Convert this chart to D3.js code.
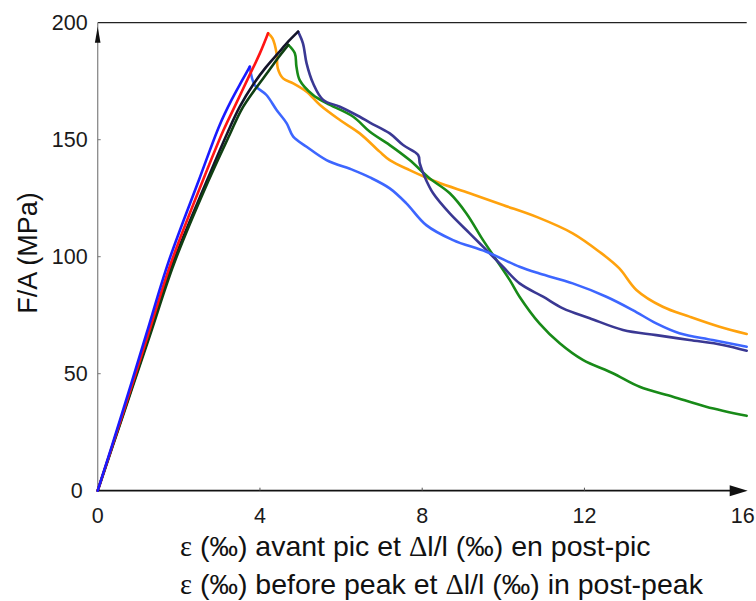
<!DOCTYPE html>
<html>
<head>
<meta charset="utf-8">
<script src="https://cdn.jsdelivr.net/npm/d3@7"></script>
<style>
  body { margin: 0; background: #fff; }
  .tick-label { font-family: "Liberation Sans", Arial, sans-serif; font-size: 21.5px; fill: #1a1a1a; }
  .axis-label { font-family: "Liberation Sans", Arial, sans-serif; fill: #111; }
  .curve { fill: none; stroke-width: 2.6; stroke-linejoin: round; stroke-linecap: round; }
</style>
</head>
<body>
<div id="chart"></div>
<script>
// tick values
const xTicks = [0, 4, 8, 12, 16];
const yTicks = [0, 50, 100, 150, 200];

// pre-peak curves (strain in per mille, stress in MPa)
const bluePreX = [0, 0.6, 1.2, 1.75, 2.5, 3.0, 3.3, 3.55, 3.75];
const bluePreY = [0, 33, 67, 98, 133, 156, 167, 175, 181.2];
const redPreX = [0, 0.62, 1.23, 1.8, 2.58, 3.1, 3.4, 3.7, 4.0, 4.2];
const redPreY = [0, 33, 66, 97, 132, 154, 165, 176, 187, 195.5];
const blackPreX = [0, 0.63, 1.26, 1.85, 2.68, 3.2, 3.5, 3.85, 4.15, 4.45, 4.7, 4.94];
const blackPreY = [0, 33, 66, 97, 132, 153, 164, 174, 181, 187, 192, 196.2];
const darkGreenPreX = [0, 0.64, 1.28, 1.88, 2.72, 3.25, 3.55, 3.9, 4.2, 4.45, 4.7];
const darkGreenPreY = [0, 33, 66, 97, 132, 152, 163, 172, 179, 185, 190.5];

// post-peak curves (dl/l in per mille, stress in MPa)
const orangePostX = [4.2, 4.31, 4.41, 4.44, 4.57, 4.82, 5.15, 5.48, 5.97, 6.46, 6.95, 7.2, 7.69, 8.35, 9.17, 9.99, 10.85, 11.71, 12.37, 12.86, 13.28, 13.93, 14.59, 15.33, 16];
const orangePostY = [195.5, 193.3, 186.9, 180.5, 176.2, 174.1, 170.5, 164.8, 158.4, 152.7, 144.9, 141.3, 137, 132, 127.1, 122.1, 116.8, 110, 102.1, 95, 85.8, 78.6, 74.4, 70.1, 67];
const lightBluePostX = [3.75, 3.87, 4.16, 4.41, 4.66, 4.82, 5.15, 5.64, 6.3, 6.71, 7.2, 7.61, 8.1, 8.76, 9.58, 10.4, 10.89, 11.71, 12.54, 13.19, 13.77, 14.34, 15.16, 16];
const lightBluePostY = [181.2, 173.4, 169.1, 162.7, 157, 151.3, 147, 141.3, 137, 133.9, 129.2, 122.8, 113.5, 107.1, 102.1, 95.7, 92.8, 88.6, 82.9, 77.2, 71.5, 67.3, 64.4, 61.5];
const navyPostX = [4.94, 5.06, 5.15, 5.31, 5.56, 5.97, 6.46, 6.71, 7.2, 7.53, 7.9, 7.94, 8.06, 8.27, 8.68, 9.17, 9.58, 9.99, 10.4, 10.98, 11.47, 12.13, 12.95, 13.77, 14.59, 15.41, 16];
const navyPostY = [196.2, 191.2, 182.6, 174.1, 167, 164.1, 159.8, 157.3, 152.7, 147.7, 143.5, 139.9, 134.2, 127.1, 118.5, 110, 102.9, 95.7, 88.6, 82.9, 77.9, 73.7, 68.7, 66.5, 64.4, 62.3, 59.8];
const greenPostX = [4.7, 4.86, 4.9, 4.98, 5.31, 5.64, 6.3, 6.71, 7.2, 7.69, 8.18, 8.68, 9.09, 9.5, 9.83, 10.16, 10.4, 10.89, 11.39, 11.96, 12.7, 13.36, 14.18, 15.0, 16];
const greenPostY = [190.5, 186.9, 181.2, 175.5, 169.1, 165.6, 159.8, 153.4, 147.7, 141.3, 133.5, 127.1, 118.5, 107.1, 98.6, 90, 82.9, 71.5, 63, 55.9, 50.2, 44.4, 40.2, 35.9, 32];

class StrainChart {
  constructor(props) {
    this.container = props.container;
    this.svgWidth = props.svgWidth;
    this.svgHeight = props.svgHeight;
    this.curves = props.curves;
    this.init();
  }

  init() {
    this.margin = { top: 22.7, right: 9.3, bottom: 110.3, left: 97.7 };
    this.x = d3.scaleLinear().domain([0, 16]).range([this.margin.left, this.svgWidth - this.margin.right]);
    this.y = d3.scaleLinear().domain([0, 200]).range([this.svgHeight - this.margin.bottom, this.margin.top]);
    this.render();
  }

  render() {
    const x = this.x, y = this.y;
    const svg = d3.select(this.container)
      .append("svg")
      .attr("width", this.svgWidth)
      .attr("height", this.svgHeight);

    const x0 = x(0), x1 = x(16), y0 = y(0), y1 = y(200);

    // frame: top line, grey y axis, x axis with arrow
    svg.append("line").attr("x1", x0).attr("x2", x1).attr("y1", y1).attr("y2", y1)
      .attr("stroke", "#222").attr("stroke-width", 1.3);
    svg.append("line").attr("x1", x0).attr("x2", x0).attr("y1", y1).attr("y2", y0)
      .attr("stroke", "#8a8a8a").attr("stroke-width", 1.3);
    svg.append("line").attr("x1", x0).attr("x2", x1 - 14).attr("y1", y0).attr("y2", y0)
      .attr("stroke", "#111").attr("stroke-width", 1.8);
    svg.append("path")
      .attr("d", `M${x1 + 1},${y0} L${x1 - 17},${y0 - 5.5} L${x1 - 17},${y0 + 5.5} Z`)
      .attr("fill", "#111");
    svg.append("path")
      .attr("d", `M${x0},${y1 + 4} L${x0 - 2.8},${y1 + 20} L${x0 + 2.8},${y1 + 20} Z`)
      .attr("fill", "#111");

    // small ticks
    svg.append("g").selectAll("line").data(xTicks.slice(1, -1)).join("line")
      .attr("x1", (d) => x(d)).attr("x2", (d) => x(d))
      .attr("y1", y0).attr("y2", y0 - 3)
      .attr("stroke", "#555");
    svg.append("g").selectAll("line").data(yTicks.slice(1, -1)).join("line")
      .attr("x1", x0).attr("x2", x0 + 3)
      .attr("y1", (d) => y(d)).attr("y2", (d) => y(d))
      .attr("stroke", "#777");

    // tick labels
    svg.append("g").selectAll("text").data(xTicks).join("text")
      .attr("class", "tick-label")
      .attr("x", (d) => x(d) - (d === 16 ? 4 : 0))
      .attr("y", y0 + 32)
      .attr("text-anchor", "middle")
      .text((d) => d);
    svg.append("g").selectAll("text").data(yTicks).join("text")
      .attr("class", "tick-label")
      .attr("x", (d) => (d === 0 ? x0 - 15 : x0 - 10))
      .attr("y", (d) => y(d) + 7.5)
      .attr("text-anchor", "end")
      .text((d) => d);

    // curves
    const line = d3.line()
      .x((d) => x(d[0]))
      .y((d) => y(d[1]))
      .curve(d3.curveCatmullRom.alpha(0.5));
    svg.append("g").selectAll("path").data(this.curves).join("path")
      .attr("class", "curve")
      .attr("stroke", (d) => d.color)
      .attr("d", (d) => line(d3.zip(d.xs, d.ys)));

    // axis titles
    svg.append("text")
      .attr("class", "axis-label")
      .attr("transform", `translate(37, 253) rotate(-90)`)
      .attr("text-anchor", "middle")
      .style("font-size", "27px")
      .text("F/A (MPa)");

    const lines = [
      ["ε", " (‰) avant pic et ", "Δ", "l/l (‰) en post-pic"],
      ["ε", " (‰) before peak et ", "Δ", "l/l (‰) in post-peak"]
    ];
    svg.append("g").selectAll("text").data(lines).join("text")
      .attr("class", "axis-label")
      .attr("x", 180)
      .attr("y", (d, i) => 556 + i * 38)
      .style("font-size", "28.5px")
      .selectAll("tspan").data((d) => d).join("tspan")
      .style("font-family", (d, i) => (i % 2 === 0 ? "'Liberation Serif', 'DejaVu Serif', serif" : null))
      .text((d) => d);
  }
}

new StrainChart({
  container: "#chart",
  svgWidth: 756,
  svgHeight: 601,
  curves: [
    { xs: orangePostX, ys: orangePostY, color: "#ffa20d" },
    { xs: greenPostX, ys: greenPostY, color: "#188a18" },
    { xs: navyPostX, ys: navyPostY, color: "#3a3893" },
    { xs: lightBluePostX, ys: lightBluePostY, color: "#3d66ff" },
    { xs: blackPreX, ys: blackPreY, color: "#14142a" },
    { xs: darkGreenPreX, ys: darkGreenPreY, color: "#0f3f12" },
    { xs: redPreX, ys: redPreY, color: "#ff1414" },
    { xs: bluePreX, ys: bluePreY, color: "#1a1aff" }
  ]
});
</script>
</body>
</html>
